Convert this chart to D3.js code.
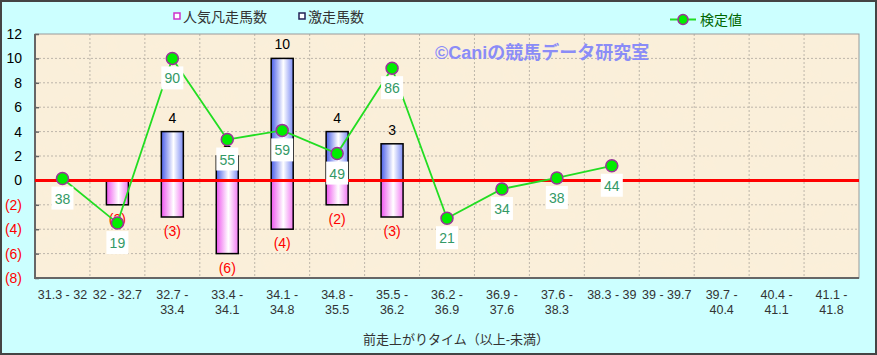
<!DOCTYPE html>
<html>
  <head>
    <style>
      html,
      body { margin: 0; background: #fff; }
      svg { display: block; }
    </style>
    <script src="https://d3js.org/d3.v7.js"></script>
  </head>
  <body>
    <svg class="chart"></svg>

    <script>
      const width = 877;
      const height = 355;

      // data
      const categories = [
        '31.3 - 32', '32 - 32.7', '32.7 - 33.4', '33.4 - 34.1', '34.1 - 34.8',
        '34.8 - 35.5', '35.5 - 36.2', '36.2 - 36.9', '36.9 - 37.6', '37.6 - 38.3',
        '38.3 - 39', '39 - 39.7', '39.7 - 40.4', '40.4 - 41.1', '41.1 - 41.8'
      ];
      const popularLosers = [null, -2, -3, -6, -4, -2, -3, null, null, null, null, null, null, null, null];
      const surgeHorses = [null, null, 4, 2, 10, 4, 3, null, null, null, null, null, null, null, null];
      const testValues = [0.15, -3.5, 10, 3.35, 4.1, 2.2, 9.2, -3.1, -0.7, 0.2, 1.2];
      const testLabels = [38, 19, 90, 55, 59, 49, 86, 21, 34, 38, 44];
      const yTicks = [-8, -6, -4, -2, 0, 2, 4, 6, 8, 10, 12];

      const font = '"Liberation Sans", "Noto Sans CJK JP", sans-serif';

      const plot = { left: 35, right: 859, top: 34, bottom: 278 };

      const svg = d3.select('svg')
        .attr('width', width)
        .attr('height', height)
        .style('font-family', font);

      const defs = svg.append('defs');

      const blue = defs.append('linearGradient').attr('id', 'blueGrad');
      blue.append('stop').attr('offset', '0%').attr('stop-color', '#4a5ee8');
      blue.append('stop').attr('offset', '55%').attr('stop-color', '#ffffff');
      blue.append('stop').attr('offset', '100%').attr('stop-color', '#7d8cf5');

      const pink = defs.append('linearGradient').attr('id', 'pinkGrad');
      pink.append('stop').attr('offset', '0%').attr('stop-color', '#ee55ee');
      pink.append('stop').attr('offset', '55%').attr('stop-color', '#ffffff');
      pink.append('stop').attr('offset', '100%').attr('stop-color', '#f27af2');

      // subtle paper texture
      const paper = defs.append('filter').attr('id', 'paper')
        .attr('x', 0).attr('y', 0).attr('width', 1).attr('height', 1);
      paper.append('feTurbulence')
        .attr('type', 'fractalNoise').attr('baseFrequency', 0.05)
        .attr('numOctaves', 2).attr('seed', 3).attr('result', 'noise');
      paper.append('feColorMatrix').attr('in', 'noise').attr('type', 'matrix')
        .attr('values', '0 0 0 0 0.93  0 0 0 0 0.86  0 0 0 0 0.72  0 0 0 0.35 0')
        .attr('result', 'tint');
      paper.append('feComposite').attr('in', 'tint').attr('in2', 'SourceGraphic').attr('operator', 'in');

      // background and outer border
      svg.append('rect')
        .attr('x', 1).attr('y', 1)
        .attr('width', width - 2).attr('height', height - 2)
        .attr('fill', '#ccffff')
        .attr('stroke', '#444')
        .attr('stroke-width', 2);

      const x = d3.scaleBand()
        .domain(categories)
        .range([plot.left, plot.right]);

      const y = d3.scaleLinear()
        .domain([-8, 12])
        .range([plot.bottom, plot.top]);

      // plot area
      svg.append('rect')
        .attr('x', plot.left).attr('y', plot.top)
        .attr('width', plot.right - plot.left).attr('height', plot.bottom - plot.top)
        .attr('fill', '#fbefd9');
      svg.append('rect')
        .attr('x', plot.left).attr('y', plot.top)
        .attr('width', plot.right - plot.left).attr('height', plot.bottom - plot.top)
        .attr('fill', '#fbefd9')
        .attr('filter', 'url(#paper)');

      // grid
      svg.append('g')
        .selectAll('line')
        .data(yTicks.slice(1, -1))
        .join('line')
        .attr('x1', plot.left).attr('x2', plot.right)
        .attr('y1', (d) => y(d)).attr('y2', (d) => y(d))
        .attr('stroke', '#bdb6aa')
        .attr('stroke-dasharray', '2,2');

      svg.append('g')
        .selectAll('line')
        .data(categories.slice(1))
        .join('line')
        .attr('x1', (d) => x(d)).attr('x2', (d) => x(d))
        .attr('y1', plot.top).attr('y2', plot.bottom)
        .attr('stroke', '#bdb6aa')
        .attr('stroke-dasharray', '2,2');

      // plot border
      svg.append('rect')
        .attr('x', plot.left).attr('y', plot.top)
        .attr('width', plot.right - plot.left).attr('height', plot.bottom - plot.top)
        .attr('fill', 'none')
        .attr('stroke', '#999');
      svg.append('path')
        .attr('d', `M${plot.left},${plot.top}V${plot.bottom}H${plot.right}`)
        .attr('fill', 'none')
        .attr('stroke', '#666')
        .attr('stroke-width', 2);

      // y axis, ticks point inward
      const yAxis = svg.append('g')
        .attr('transform', `translate(${plot.left},0)`)
        .call(d3.axisLeft(y).tickValues(yTicks).tickSize(-4).tickPadding(13)
          .tickFormat((d) => (d < 0 ? `(${-d})` : d)));
      yAxis.select('.domain').remove();
      yAxis.selectAll('line').attr('stroke', '#666').attr('stroke-width', 1.5);
      yAxis.selectAll('text')
        .style('font-family', font)
        .style('font-size', '14px')
        .attr('fill', (d) => (d < 0 ? '#ff0000' : '#000'));

      // x axis labels
      const xLabels = svg.append('g')
        .selectAll('text')
        .data(categories)
        .join('text')
        .attr('x', (d) => x(d) + x.bandwidth() / 2)
        .attr('y', 299)
        .attr('text-anchor', 'middle')
        .attr('fill', '#333')
        .style('font-size', '12.5px');
      xLabels.each(function (d) {
        const el = d3.select(this);
        const lines = d.length > 9 ? [d.split(' - ')[0] + ' -', d.split(' - ')[1]] : [d];
        lines.forEach((t, i) => {
          el.append('tspan')
            .attr('x', x(d) + x.bandwidth() / 2)
            .attr('dy', i === 0 ? 0 : 15)
            .text(t);
        });
      });

      svg.append('text')
        .attr('x', 456)
        .attr('y', 344)
        .attr('text-anchor', 'middle')
        .attr('fill', '#333')
        .style('font-size', '13px')
        .text('前走上がりタイム（以上-未満）');

      // bars
      const barW = 22;
      const bars = svg.append('g');

      bars.selectAll('rect.pos')
        .data(categories.filter((c, i) => surgeHorses[i] != null))
        .join('rect')
        .attr('class', 'pos')
        .attr('x', (d) => x(d) + x.bandwidth() / 2 - barW / 2)
        .attr('y', (d) => y(surgeHorses[categories.indexOf(d)]))
        .attr('width', barW)
        .attr('height', (d) => y(0) - y(surgeHorses[categories.indexOf(d)]))
        .attr('fill', 'url(#blueGrad)')
        .attr('stroke', '#000')
        .attr('stroke-width', 1.5);

      bars.selectAll('rect.neg')
        .data(categories.filter((c, i) => popularLosers[i] != null))
        .join('rect')
        .attr('class', 'neg')
        .attr('x', (d) => x(d) + x.bandwidth() / 2 - barW / 2)
        .attr('y', y(0))
        .attr('width', barW)
        .attr('height', (d) => y(popularLosers[categories.indexOf(d)]) - y(0))
        .attr('fill', 'url(#pinkGrad)')
        .attr('stroke', '#000')
        .attr('stroke-width', 1.5);

      // zero line
      svg.append('line')
        .attr('x1', plot.left).attr('x2', plot.right)
        .attr('y1', y(0)).attr('y2', y(0))
        .attr('stroke', '#ff0000')
        .attr('stroke-width', 3);

      // bar value labels
      svg.append('g')
        .selectAll('text')
        .data(categories.filter((c, i) => surgeHorses[i] != null))
        .join('text')
        .attr('x', (d) => x(d) + x.bandwidth() / 2)
        .attr('y', (d) => y(surgeHorses[categories.indexOf(d)]) - 9)
        .attr('text-anchor', 'middle')
        .attr('fill', '#000')
        .style('font-size', '14px')
        .text((d) => surgeHorses[categories.indexOf(d)]);

      svg.append('g')
        .selectAll('text')
        .data(categories.filter((c, i) => popularLosers[i] != null))
        .join('text')
        .attr('x', (d) => x(d) + x.bandwidth() / 2)
        .attr('y', (d) => y(popularLosers[categories.indexOf(d)]) + 19)
        .attr('text-anchor', 'middle')
        .attr('fill', '#ff0000')
        .style('font-size', '14px')
        .text((d) => `(${-popularLosers[categories.indexOf(d)]})`);

      // test value line
      const pts = testValues.map((v, i) => ({
        cx: x(categories[i]) + x.bandwidth() / 2,
        cy: y(v),
        label: testLabels[i]
      }));

      svg.append('path')
        .datum(pts)
        .attr('fill', 'none')
        .attr('stroke', '#22dd22')
        .attr('stroke-width', 1.8)
        .attr('d', d3.line().x((d) => d.cx).y((d) => d.cy));

      svg.append('g')
        .selectAll('circle')
        .data(pts)
        .join('circle')
        .attr('cx', (d) => d.cx)
        .attr('cy', (d) => d.cy)
        .attr('r', 6)
        .attr('fill', '#00ee00')
        .attr('stroke', '#993399')
        .attr('stroke-width', 1.5);

      const ptLabels = svg.append('g')
        .selectAll('g')
        .data(pts)
        .join('g')
        .attr('transform', (d) => `translate(${d.cx},${d.cy + 20})`);
      ptLabels.append('rect')
        .attr('x', -11).attr('y', -12)
        .attr('width', 22).attr('height', 23)
        .attr('fill', '#fff');
      ptLabels.append('text')
        .attr('text-anchor', 'middle')
        .attr('dy', '0.36em')
        .attr('fill', '#339966')
        .style('font-size', '14px')
        .text((d) => d.label);

      // watermark
      svg.append('text')
        .attr('x', 435)
        .attr('y', 59)
        .attr('fill', '#8a8cf7')
        .style('font-size', '18px')
        .style('font-weight', 'bold')
        .text('©Caniの競馬データ研究室');

      // legend
      const legend = svg.append('g').style('font-size', '14px');
      legend.append('rect')
        .attr('x', 174).attr('y', 13).attr('width', 6).attr('height', 6)
        .attr('fill', '#fff').attr('stroke', '#cc33cc').attr('stroke-width', 1.5);
      legend.append('text')
        .attr('x', 183).attr('y', 22)
        .attr('fill', '#333')
        .text('人気凡走馬数');
      legend.append('rect')
        .attr('x', 299).attr('y', 13).attr('width', 6).attr('height', 6)
        .attr('fill', '#fff').attr('stroke', '#222255').attr('stroke-width', 1.5);
      legend.append('text')
        .attr('x', 308).attr('y', 22)
        .attr('fill', '#333')
        .text('激走馬数');

      legend.append('line')
        .attr('x1', 670).attr('x2', 696)
        .attr('y1', 19.5).attr('y2', 19.5)
        .attr('stroke', '#22dd22').attr('stroke-width', 2);
      legend.append('circle')
        .attr('cx', 683).attr('cy', 19.5).attr('r', 5)
        .attr('fill', '#00ee00').attr('stroke', '#993399').attr('stroke-width', 1.5);
      legend.append('text')
        .attr('x', 700).attr('y', 25)
        .attr('fill', '#006600')
        .text('検定値');
    </script>
  </body>
</html>
